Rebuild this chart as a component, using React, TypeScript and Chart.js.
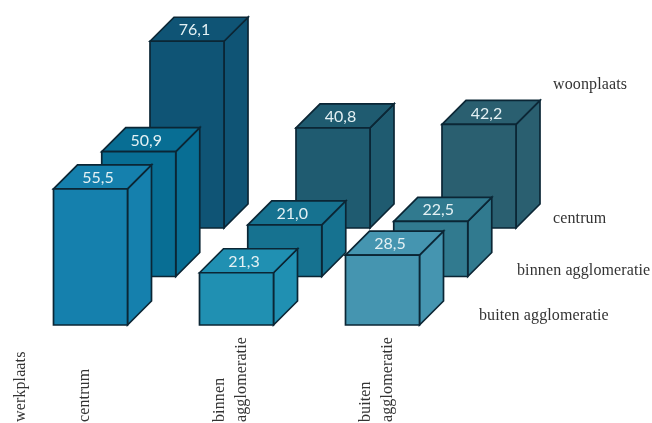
import { useEffect, useRef } from "react";
import { Chart, BarController, registerables } from "chart.js";

Chart.register(...registerables);

// Commuting shares: columns are the place of work, rows the place of residence.
const workplaceLabels = [["centrum"], ["binnen", "agglomeratie"], ["buiten", "agglomeratie"]];
const categories = ["centrum", "binnen agglomeratie", "buiten agglomeratie"];
const residenceCentrum = [76.1, 40.8, 42.2];
const residenceBinnen = [50.9, 21.0, 22.5];
const residenceBuiten = [55.5, 21.3, 28.5];

const coloursCentrum = ["#0f5475", "#1f5b70", "#2a5f70"];
const coloursBinnen = ["#086e94", "#167290", "#317a8f"];
const coloursBuiten = ["#1580ad", "#2090b2", "#4595b0"];

const workplaceAxisTitle = "werkplaats";
const residenceAxisTitle = "woonplaats";
const SERIF = '"Liberation Serif", serif';

const DEPTH_STEP_X = 48.25;
const DEPTH_STEP_Y = 48.5;
const BOX_DEPTH = 24;
const OUTLINE = "#0b2635";

const formatValue = (v: number) => v.toFixed(1).replace(".", ",");

// Bar controller that paints every bar as an extruded box, shifted back by its row.
class CuboidController extends BarController {
  static id = "cuboid";

  draw() {
    const ctx = this.chart.ctx;
    const dataset = this.getDataset() as any;
    const shiftX = dataset.row * DEPTH_STEP_X;
    const shiftY = -dataset.row * DEPTH_STEP_Y;

    this.getMeta().data.forEach((bar: any, i: number) => {
      const { x, y, base, width } = bar.getProps(["x", "y", "base", "width"], true);
      const l = x - width / 2 + shiftX;
      const r = x + width / 2 + shiftX;
      const t = y + shiftY;
      const b = base + shiftY;
      const d = BOX_DEPTH;

      ctx.save();
      ctx.fillStyle = dataset.backgroundColor[i];
      ctx.strokeStyle = OUTLINE;
      ctx.lineWidth = 1.7;
      ctx.lineJoin = "miter";

      const face = (pts: number[][]) => {
        ctx.beginPath();
        pts.forEach(([px, py], k) => (k ? ctx.lineTo(px, py) : ctx.moveTo(px, py)));
        ctx.closePath();
        ctx.fill();
        ctx.stroke();
      };
      face([[r, t], [r + d, t - d], [r + d, b - d], [r, b]]);
      face([[l, t], [l + d, t - d], [r + d, t - d], [r, t]]);
      face([[l, t], [r, t], [r, b], [l, b]]);

      ctx.fillStyle = "#e4f1f4";
      ctx.font = "16px Lato, sans-serif";
      ctx.textAlign = "center";
      ctx.textBaseline = "middle";
      ctx.fillText(formatValue(dataset.data[i]), x + shiftX + 7.5, t - 11);
      ctx.restore();
    });
  }
}
Chart.register(CuboidController);

// Upright axis labels under each column and the row names to the right.
const axisText = {
  id: "axisText",
  afterDraw(chart: Chart) {
    const { ctx } = chart;
    const xScale = chart.scales.x;
    ctx.save();
    ctx.fillStyle = "#333333";
    ctx.font = `16px ${SERIF}`;
    (ctx as any).letterSpacing = "0.12px";
    ctx.textBaseline = "middle";
    ctx.textAlign = "left";

    const upright = (text: string, px: number) => {
      ctx.save();
      ctx.translate(px, 422);
      ctx.rotate(-Math.PI / 2);
      ctx.fillText(text, 0, 0);
      ctx.restore();
    };
    upright(workplaceAxisTitle, 21);
    workplaceLabels.forEach((lines, i) => {
      const centre = xScale.getPixelForValue(i) - 6;
      lines.forEach((line, k) => upright(line, centre + (k - (lines.length - 1) / 2) * 22));
    });

    ctx.fillText(residenceAxisTitle, 553, 85);
    ctx.fillText("centrum", 553, 219);
    ctx.fillText("binnen agglomeratie", 517, 271);
    ctx.fillText("buiten agglomeratie", 479, 316);
    ctx.restore();
  },
};

export default function App() {
  const canvasRef = useRef<HTMLCanvasElement>(null);

  useEffect(() => {
    const chart = new Chart(canvasRef.current!, {
      type: "cuboid" as any,
      data: {
        labels: categories,
        datasets: [
          { label: "buiten agglomeratie", row: 0, data: residenceBuiten, backgroundColor: coloursBuiten },
          { label: "binnen agglomeratie", row: 1, data: residenceBinnen, backgroundColor: coloursBinnen },
          { label: "centrum", row: 2, data: residenceCentrum, backgroundColor: coloursCentrum },
        ] as any,
      },
      options: {
        responsive: false,
        animation: false,
        layout: { padding: { top: 6, bottom: 98, left: 17.5, right: 196.5 } },
        datasets: { cuboid: { grouped: false, barThickness: 74, clip: false } } as any,
        plugins: { legend: { display: false }, tooltip: { enabled: false } },
        scales: {
          x: { type: "category", offset: true, display: false },
          y: { type: "linear", min: 0, max: 130, display: false },
        },
      },
      plugins: [axisText],
    });
    return () => chart.destroy();
  }, []);

  return (
    <div style={{ position: "fixed", left: 0, top: 0, width: 652, height: 423, background: "#fff" }}>
      <canvas ref={canvasRef} width={652} height={423} style={{ display: "block" }} />
    </div>
  );
}
